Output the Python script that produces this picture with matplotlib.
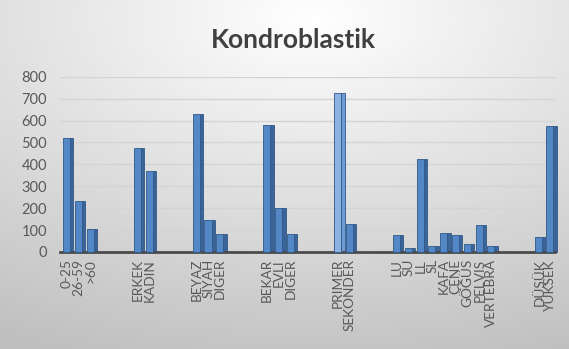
import numpy as np
import matplotlib.pyplot as plt

title = "Kondroblastik"
groups = [
    ["0-25", "26-59", ">60"],
    ["ERKEK", "KADIN"],
    ["BEYAZ", "SIYAH", "DIGER"],
    ["BEKAR", "EVLI", "DIGER"],
    ["PRIMER", "SEKONDER"],
    ["LU", "SU", "LL", "SL", "KAFA", "ÇENE", "GÖĞÜS", "PELVIS", "VERTEBRA"],
    ["DÜŞÜK", "YÜKSEK"],
]
group_values = [
    [520, 232, 104],
    [473, 372],
    [629, 146, 81],
    [578, 200, 82],
    [727, 126],
    [76, 17, 423, 28, 85, 76, 36, 122, 27],
    [67, 574],
]
n_blank = 3
yticks = [0, 100, 200, 300, 400, 500, 600, 700, 800]

# build the flat category list with blank separators, as in the sheet
labels = []
values = []
for gi, (g, v) in enumerate(zip(groups, group_values)):
    if gi > 0:
        labels += [""] * n_blank
        values += [np.nan] * n_blank
    labels += g
    values += v
values = np.array(values, dtype=float)
x = np.arange(len(labels))

plt.rcParams['font.family'] = ['Lato', 'DejaVu Sans']

fig = plt.figure(figsize=(5.69, 3.49), dpi=100)

# background gradient
bg = fig.add_axes([0, 0, 1, 1], zorder=-10)
yy, xx = np.mgrid[0:1:200j, 0:1:300j]
d = np.sqrt(((xx - 0.55) * 1.0) ** 2 + ((yy - 0.05) * 1.1) ** 2)
shade = 1.0 - 0.25 * np.clip(d, 0, 1.15) / 1.15
img = np.dstack([shade, shade, shade])
bg.imshow(img, aspect='auto', extent=[0, 1, 0, 1], origin='upper')
bg.set_axis_off()

ax = fig.add_axes([0.105, 0.278, 0.87, 0.502])
ax.set_facecolor('none')

front = ax.bar(x + 0.08, values, width=0.6, color='#5487c6', edgecolor='#2f5888',
               linewidth=0.6, zorder=3, clip_on=False)
side = ax.bar(x + 0.52, values, width=0.28, color='#3b6499', edgecolor='#2f5888',
              linewidth=0.6, zorder=2, clip_on=False)
# lighter highlight for the PRIMER column
pi = labels.index("PRIMER")
front[pi].set_facecolor('#8db3e2')
side[pi].set_facecolor('#6f9bd4')

ax.set_xlim(-0.5, len(labels) - 0.5)
ax.set_ylim(0, 800)
ax.set_yticks(yticks)
ax.set_yticklabels([str(t) for t in yticks])
ax.yaxis.grid(True, color='#d4d4d4', linewidth=1.0, zorder=0)
ax.set_axisbelow(True)

ax.set_xticks(x + 0.1)
ax.set_xticklabels(labels, rotation=90, fontsize=9.8, color='#595959',
                   ha='center', va='top')
ax.tick_params(axis='x', length=0, pad=5)
ax.tick_params(axis='y', length=0, pad=9, labelsize=10.5, labelcolor='#595959')

for s in ['top', 'right', 'left']:
    ax.spines[s].set_visible(False)
ax.spines['bottom'].set_color('#4a4a4a')
ax.spines['bottom'].set_linewidth(2)

fig.text(0.515, 0.885, title, ha='center', va='center', fontsize=19,
         fontweight='bold', color='#404040')

fig.savefig('out.png', dpi=100)
